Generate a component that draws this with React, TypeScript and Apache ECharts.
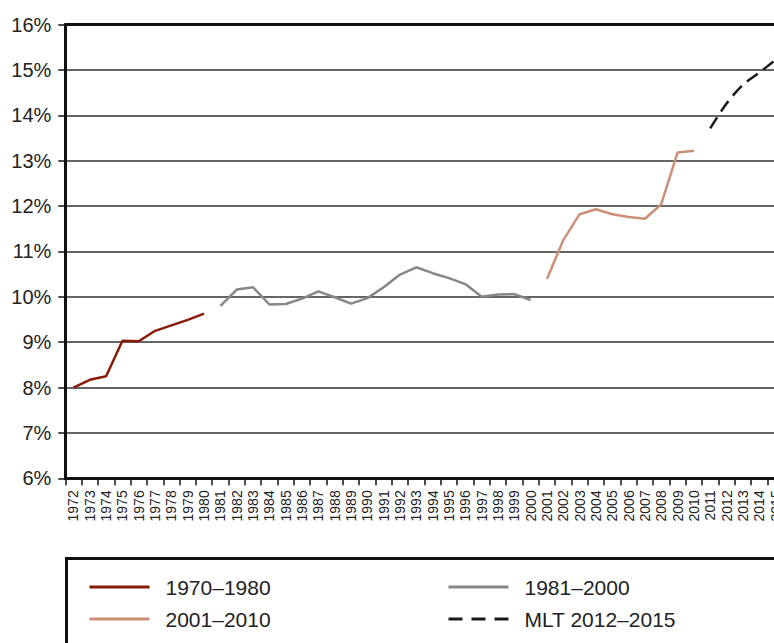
import React, { useEffect, useRef } from "react";
import * as echarts from "echarts";

const years = [
  "1972", "1973", "1974", "1975", "1976", "1977", "1978", "1979", "1980",
  "1981", "1982", "1983", "1984", "1985", "1986", "1987", "1988", "1989", "1990",
  "1991", "1992", "1993", "1994", "1995", "1996", "1997", "1998", "1999", "2000",
  "2001", "2002", "2003", "2004", "2005", "2006", "2007", "2008", "2009", "2010",
  "2011", "2012", "2013", "2014", "2015",
];

const seriesNames = ["1970–1980", "1981–2000", "2001–2010", "MLT 2012–2015"];

// 1972–1980
const values1970s = [8.0, 8.17, 8.25, 9.03, 9.02, 9.25, 9.37, 9.49, 9.63];
// 1981–2000
const values1981to2000 = [
  9.8, 10.16, 10.21, 9.83, 9.84, 9.96, 10.12, 9.99, 9.85, 9.97,
  10.21, 10.49, 10.65, 10.52, 10.41, 10.28, 10.0, 10.05, 10.06, 9.93,
];
// 2001–2010
const values2001to2010 = [10.39, 11.25, 11.82, 11.93, 11.82, 11.76, 11.72, 12.04, 13.18, 13.22];
// MLT 2011–2015
const valuesMLT = [13.71, 14.26, 14.67, 14.94, 15.22];

const yTicks = { min: 6, max: 16, interval: 1 };

function place(values: number[], startYear: string): (number | null)[] {
  const start = years.indexOf(startYear);
  return years.map((_, i) =>
    i >= start && i < start + values.length ? values[i - start] : null
  );
}

const FONT = "'Liberation Sans', Arial, Helvetica, sans-serif";

export default function App() {
  const ref = useRef<HTMLDivElement>(null);

  useEffect(() => {
    if (!ref.current) return;
    const chart = echarts.init(ref.current, null, { renderer: "svg" });

    const legendBase = (name: string, left: number, top: number, dash: any = "solid") => ({
      data: [name],
      left,
      top,
      padding: 0,
      itemWidth: 60,
      itemHeight: 14,
      selectedMode: false,
      itemStyle: { color: "transparent", borderWidth: 0, opacity: 0 },
      lineStyle: { width: 3, type: dash },
      textStyle: {
        fontSize: 21,
        fontFamily: FONT,
        color: "#222",
        padding: [0, 0, 0, 11],
        lineHeight: 24,
      },
    });

    chart.setOption({
      animation: false,
      backgroundColor: "#fff",
      textStyle: { fontFamily: FONT },
      grid: { left: 65.3, top: 24.5, width: 718.4, height: 453.8, containLabel: false },
      xAxis: [
        {
          type: "category",
          data: years,
          boundaryGap: true,
          axisLine: { show: true, lineStyle: { color: "#111", width: 3 } },
          axisTick: { show: true, length: 7, interval: 0, lineStyle: { color: "#111", width: 1.5 } },
          axisLabel: {
            interval: 0,
            rotate: 90,
            fontSize: 14,
            margin: 12,
            color: "#222",
            fontFamily: FONT,
          },
          splitLine: { show: false },
        },
        {
          type: "category",
          data: years,
          position: "top",
          boundaryGap: true,
          axisLine: { show: true, lineStyle: { color: "#111", width: 3 } },
          axisTick: { show: false },
          axisLabel: { show: false },
          splitLine: { show: false },
        },
      ],
      yAxis: {
        type: "value",
        min: yTicks.min,
        max: yTicks.max,
        interval: yTicks.interval,
        axisLine: { show: true, lineStyle: { color: "#111", width: 3 } },
        axisTick: { show: true, length: 7, lineStyle: { color: "#111", width: 1.5 } },
        axisLabel: {
          formatter: "{value}%",
          fontSize: 20,
          margin: 14,
          color: "#222",
          fontFamily: FONT,
        },
        splitLine: { show: true, lineStyle: { color: "#333", width: 1.5 } },
      },
      legend: [
        legendBase(seriesNames[0], 88, 575),
        legendBase(seriesNames[1], 447, 575),
        legendBase(seriesNames[2], 88, 607),
        legendBase(seriesNames[3], 447, 607, [14, 9]),
      ],
      graphic: [
        {
          type: "rect",
          left: 64,
          top: 556,
          shape: { width: 760, height: 200 },
          style: { fill: "none", stroke: "#111", lineWidth: 3 },
          silent: true,
          z: 10,
        },
      ],
      series: [
        {
          name: seriesNames[0],
          type: "line",
          data: place(values1970s, "1972"),
          symbol: "none",
          connectNulls: false,
          lineStyle: { color: "#871a08", width: 2.5 },
          itemStyle: { color: "#871a08" },
        },
        {
          name: seriesNames[1],
          type: "line",
          data: place(values1981to2000, "1981"),
          symbol: "none",
          connectNulls: false,
          lineStyle: { color: "#878787", width: 2.5 },
          itemStyle: { color: "#878787" },
        },
        {
          name: seriesNames[2],
          type: "line",
          data: place(values2001to2010, "2001"),
          symbol: "none",
          connectNulls: false,
          lineStyle: { color: "#cc9079", width: 2.5 },
          itemStyle: { color: "#cc9079" },
        },
        {
          name: seriesNames[3],
          type: "line",
          data: place(valuesMLT, "2011"),
          symbol: "none",
          smooth: 0.3,
          connectNulls: false,
          lineStyle: { color: "#1a1a1a", width: 2.5, type: [13, 7] },
          itemStyle: { color: "#1a1a1a" },
        },
      ],
    });

    return () => chart.dispose();
  }, []);

  return (
    <div
      style={{
        position: "fixed",
        left: 0,
        top: 0,
        width: 774,
        height: 643,
        overflow: "hidden",
        background: "#fff",
      }}
    >
      <div ref={ref} style={{ width: 820, height: 700 }} />
    </div>
  );
}
